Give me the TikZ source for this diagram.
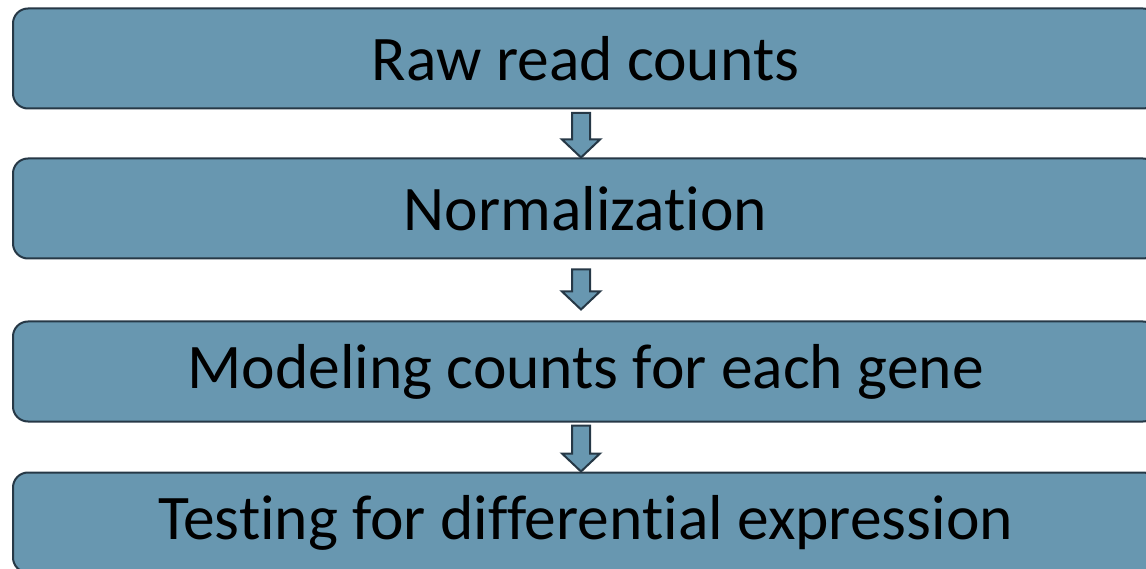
\documentclass[tikz,border=0pt]{standalone}
\usepackage{fontspec}
\setmainfont{Carlito}[Ligatures={NoCommon}]
\usepackage{tikz}
\usetikzlibrary{positioning,calc}

\definecolor{stagefill}{RGB}{104,151,176}
\definecolor{stageline}{RGB}{38,56,70}

\tikzset{
  stage/.style={draw=stageline, fill=stagefill, line width=2pt, rounded corners=15pt,
    minimum width=1145pt, minimum height=100pt, inner sep=0pt,
    font=\fontsize{63.5}{66}\selectfont},
  blockarrow/.style={draw=stageline, fill=stagefill, line width=2pt, line join=miter}
}

% outlined down arrow from #1 to #2
\newcommand{\downblock}[2]{%
  \filldraw[blockarrow] let \p1=#1, \p2=#2 in
    (\x1-9,\y1) -- (\x1+9,\y1) -- (\x1+9,\y2+18) -- (\x1+19,\y2+18) -- (\x2,\y2)
    -- (\x1-19,\y2+18) -- (\x1-9,\y2+18) -- cycle;}

\begin{document}
\begin{tikzpicture}[x=1pt,y=-1pt]
\useasboundingbox (0,0) rectangle (1146,569);
\clip (0,0) rectangle (1146,569);

\node[stage] (raw) at (585.5,58.5) {Raw read counts};
\node[stage, below=48pt of raw] (norm) {Normalization};
\node[stage, below=61pt of norm] (model) {Modeling counts for each gene};
\node[stage, below=49pt of model] (test) {Testing for differential expression};

\downblock{($(raw.south)+(-4.5,3.5)$)}{($(norm.north)+(-4.5,0)$)}
\downblock{($(norm.south)+(-4.5,10)$)}{($(model.north)+(-4.5,-11)$)}
\downblock{($(model.south)+(-4.5,3)$)}{($(test.north)+(-4.5,0)$)}
\end{tikzpicture}
\end{document}
